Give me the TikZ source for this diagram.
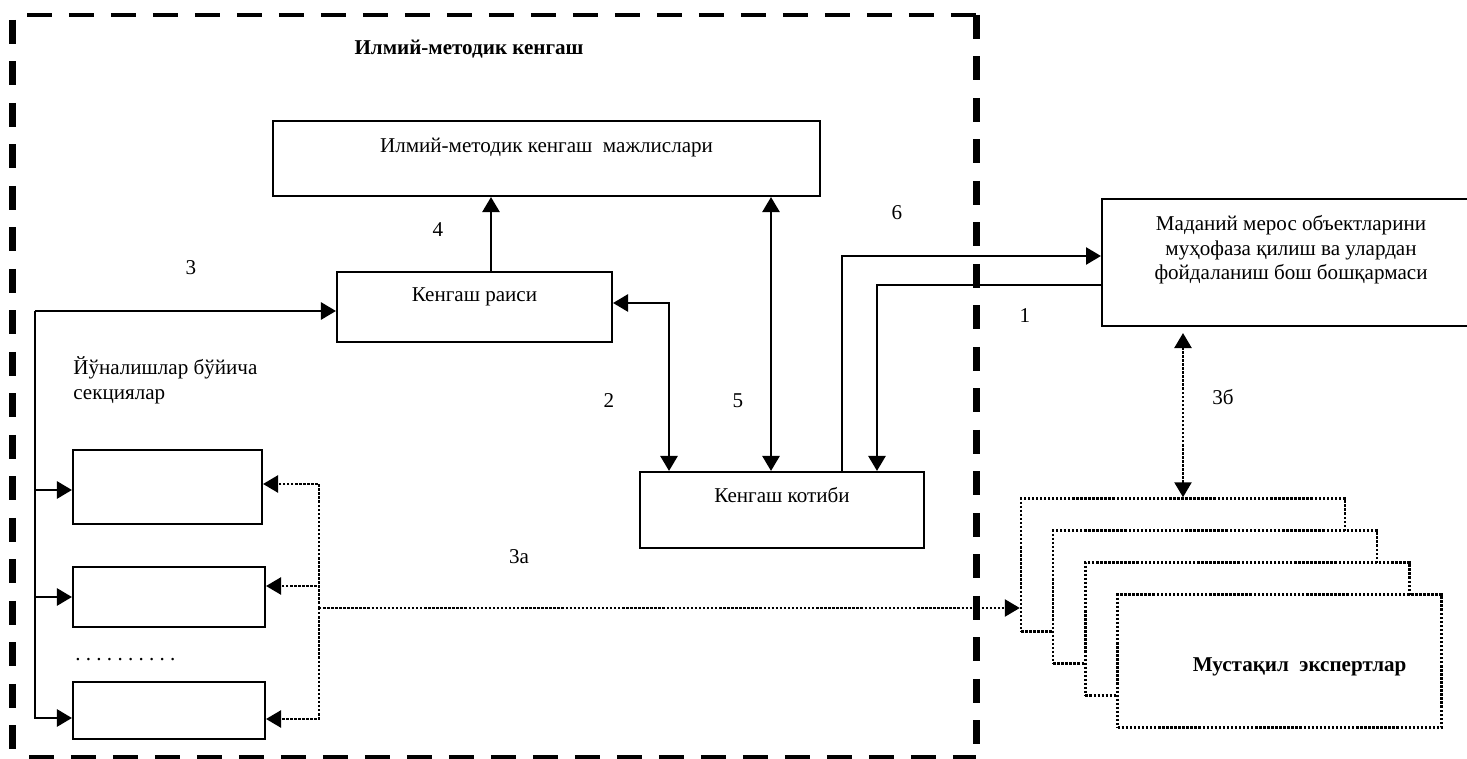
\documentclass[tikz,border=0pt]{standalone}
\usepackage{fontspec}
\setmainfont{Liberation Serif}
\usetikzlibrary{arrows.meta, calc, positioning}

\begin{document}
\begin{tikzpicture}[
		x=0.02cm, y=-0.02cm,
		font=\fontsize{12}{14.2}\selectfont,
		box/.style={draw, line width=1.2pt, inner sep=0pt, fill=white},
		layer/.style={draw, line width=1.4pt, dash pattern=on 1.4pt off 0.9pt, fill=white, inner sep=0pt, minimum width=6.48cm, minimum height=2.66cm},
		lbl/.style={inner sep=0pt},
		arr/.style={->, line width=1.5pt},
		biarr/.style={<->, line width=1.5pt},
		dotarr/.style={->, line width=1.4pt, dash pattern=on 1.4pt off 0.9pt},
		frameh/.style={line width=0.09cm, dash pattern=on 0.5cm off 0.34cm},
		framev/.style={line width=0.14cm, dash pattern=on 0.48cm off 0.35cm},
		>={Triangle[length=0.3cm, width=0.34cm]} % fleches pleines
		]
		\useasboundingbox (0,0) rectangle (1467,759);
		
		% Le cadre en tirets
		\draw[frameh] (27,15) -- (976,15) (29,757) -- (976,757);
		\draw[framev] (12.5,20) -- (12.5,757) (976,15) -- (976,757);
		
		% Les blocs
		\node[box, minimum width=10.94cm, text height=0.64cm, text depth=0.86cm] (majlis) at (546.5,158.5) {Илмий-методик кенгаш\ \ мажлислари};
		\node[box, minimum width=5.5cm, text height=0.6cm, text depth=0.8cm] (raisi) at (474.5,307) {Кенгаш раиси};
		\node[box, minimum width=5.68cm, text height=0.62cm, text depth=0.9cm] (kotibi) at (782,510) {Кенгаш котиби};
		\node[box, minimum width=7.56cm, align=center, text height=1.62cm, text depth=0.92cm] (madaniy) at (1291,262.5) {Маданий мерос объектларини\\муҳофаза қилиш ва улардан\\фойдаланиш бош бошқармаси};
		\node[box, minimum width=3.78cm, minimum height=1.48cm] (b1) at (167.5,487) {};
		\node[box, minimum width=3.84cm, minimum height=1.2cm] (b2) at (169,597) {};
		\node[box, minimum width=3.84cm, minimum height=1.14cm] (b3) at (169,710.5) {};
		
		% Les experts
		\foreach \i in {0,1,2}
			\node[layer] (e\i) at (1183+32.2*\i, 565+32*\i) {};
		\node[layer, text height=1.54cm, text depth=1.12cm] (e3) at (1279.6,661) {\hspace*{0.8cm}\textbf{Мустақил\ \ экспертлар}};
		
		% Les textes
		\node[lbl] (title) at (469,49) {\textbf{Илмий-методик кенгаш}};
		\node[lbl, anchor=north west, align=left] (sec) at (73,356) {Йўналишлар бўйича\\секциялар};
		\node[lbl, anchor=base west] (dots) at (75,661) {\frenchspacing . . . . . . . . . .};
		\node[lbl] (n3) at (191,268) {3};
		\node[lbl] (n4) at (438,230) {4};
		\node[lbl] (n2) at (609,401) {2};
		\node[lbl] (n5) at (738,401) {5};
		\node[lbl] (n6) at (897,213) {6};
		\node[lbl] (n1) at (1025,316) {1};
		\node[lbl] (n3b) at (1223,397) {3б};
		\node[lbl] (n3a) at (519,557) {3а};
		
		% Les fleches
		\coordinate (lt) at (35,311);
		\draw[arr] (lt) -- (lt -| raisi.west);
		\draw[arr] (lt) |- ([yshift=-0.06cm]b1.west);
		\draw[arr] (lt) |- (b2.west);
		\draw[arr] (lt) |- ([yshift=-0.15cm]b3.west);
		\draw[arr] ([xshift=0.33cm]raisi.north) -- ([xshift=0.33cm]raisi.north |- majlis.south);
		\draw[biarr] ([yshift=0.08cm]raisi.east) -| ([xshift=-2.26cm]kotibi.north);
		\draw[biarr] ([xshift=-0.22cm]kotibi.north) -- ([xshift=-0.22cm]kotibi.north |- majlis.south);
		\draw[arr] ([xshift=1.2cm]kotibi.north) |- ([yshift=0.13cm]madaniy.west);
		\draw[arr] ([yshift=-0.45cm]madaniy.west) -| ([xshift=1.9cm]kotibi.north);
		
		% Les fleches en pointilles
		\coordinate (tr) at (319,608);
		\draw[dotarr] (tr) |- ([yshift=0.06cm]b1.east);
		\draw[dotarr] (tr) |- ([yshift=0.22cm]b2.east);
		\draw[dotarr] (tr) |- ([yshift=-0.17cm]b3.east);
		\draw[dotarr] (tr) -- (tr -| e0.west);
		\draw[dotarr, <->, shorten >=0.12cm] (e0.north) -- (e0.north |- madaniy.south);
	\end{tikzpicture}
\end{document}
